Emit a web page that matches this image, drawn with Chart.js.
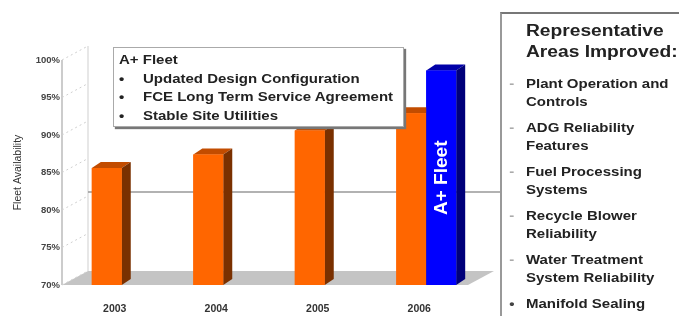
<!DOCTYPE html>
<html>
<head>
<meta charset="utf-8">
<script src="https://cdn.jsdelivr.net/npm/chart.js@4/dist/chart.umd.min.js"></script>
<style>
  body { margin: 0; background: #fff; font-family: "Liberation Sans", Arial, sans-serif; }
  #wrap { position: relative; width: 679px; height: 316px; overflow: hidden; }
  #fleetBox {
    position: absolute; left: 113px; top: 47px; width: 291px; height: 80px;
    background: #fff; border: 1px solid #aaa; box-shadow: 2px 2px 1px #777;
    box-sizing: border-box; padding: 3px 0 0 5px;
  }
  #fleetText {
    font-weight: bold; font-size: 12.5px; color: #222; line-height: 18.5px;
    transform: scaleX(1.2); transform-origin: 0 0; white-space: nowrap;
  }
  #fleetText .b { display: inline-block; width: 20px; }
  #panel {
    position: absolute; left: 500px; top: 12px; width: 190px; height: 320px;
    border-left: 2px solid #999; border-top: 2px solid #777; box-sizing: border-box;
    color: #222; font-weight: bold;
  }
  #panelText { transform: scaleX(1.2); transform-origin: 0 0; white-space: nowrap; }
  #panel h2 { margin: 6px 0 13px 20px; font-size: 16px; line-height: 21px; color: #222; }
  #panel ul { list-style: none; margin: 0; padding: 0; }
  #panel li { position: relative; padding-left: 20px; font-size: 12.5px; line-height: 18px; margin-bottom: 8px; }
  #panel li:before { content: "-"; position: absolute; left: 6px; color: #aaa; }
  #panel li.last:before { content: "\2022"; color: #444; }
</style>
</head>
<body>
<div id="wrap">
  <canvas id="availCanvas" width="679" height="316"></canvas>
  <div id="fleetBox"><div id="fleetText"></div></div>
  <div id="panel"><div id="panelText"><h2>Representative<br>Areas Improved:</h2><ul id="areaList"></ul></div></div>
</div>
<script>
var years = ["2003", "2004", "2005", "2006"];
var fleetValues = [85.6, 87.4, 90.6, 92.9];
var aPlusValues = [null, null, null, 98.6];
var yTicks = [70, 75, 80, 85, 90, 95, 100];
var boxLines = ["Updated Design Configuration", "FCE Long Term Service Agreement", "Stable Site Utilities"];
var areas = ["Plant Operation and<br>Controls", "ADG Reliability<br>Features", "Fuel Processing<br>Systems",
             "Recycle Blower<br>Reliability", "Water Treatment<br>System Reliability", "Manifold Sealing"];
var refLine = 82.4;

var panelLeft = 500;
var frontShift = 9;             // front edge sits left of the bar plane
var depthX = 9, depthY = 6;     // bar depth
var wallX = 26, wallY = 14;     // floor/wall depth

// text boxes
var html = "A+ Fleet";
boxLines.forEach(function (t) { html += '<br><span class="b">&bull;</span>' + t; });
document.getElementById('fleetText').innerHTML = html;
var list = document.getElementById('areaList');
areas.forEach(function (t, i) {
  var li = document.createElement('li');
  li.innerHTML = t;
  if (i == areas.length - 1) li.className = 'last';
  list.appendChild(li);
});

var sideColors = { '#FF6600': '#7a3000', '#0000FF': '#00007a' };
var topColors = { '#FF6600': '#c24c00', '#0000FF': '#0000a8' };

var threeD = {
  id: 'threeD',
  beforeDatasetsDraw: function (chart) {
    var ctx = chart.ctx, a = chart.chartArea, y = chart.scales.y;
    var fl = a.left - frontShift, fr = a.right - frontShift;
    ctx.save();
    // floor
    ctx.fillStyle = '#c4c4c4';
    ctx.beginPath();
    ctx.moveTo(fl, a.bottom);
    ctx.lineTo(fl + wallX, a.bottom - wallY);
    ctx.lineTo(fr + wallX, a.bottom - wallY);
    ctx.lineTo(fr, a.bottom);
    ctx.closePath();
    ctx.fill();
    // front axis line
    ctx.strokeStyle = '#999';
    ctx.lineWidth = 1;
    ctx.beginPath();
    ctx.moveTo(fl, a.top);
    ctx.lineTo(fl, a.bottom);
    ctx.stroke();
    // left wall
    ctx.strokeStyle = '#cfcfcf';
    ctx.beginPath();
    ctx.moveTo(fl + wallX, a.top - wallY);
    ctx.lineTo(fl + wallX, a.bottom - wallY);
    ctx.stroke();
    ctx.setLineDash([2, 3]);
    yTicks.forEach(function (v) {
      var py = y.getPixelForValue(v);
      ctx.beginPath();
      ctx.moveTo(fl, py);
      ctx.lineTo(fl + wallX, py - wallY);
      ctx.stroke();
    });
    ctx.setLineDash([]);
    // horizontal reference line
    ctx.strokeStyle = '#999';
    ctx.lineWidth = 1.5;
    var ry = y.getPixelForValue(refLine);
    ctx.beginPath();
    ctx.moveTo(fl + wallX, ry);
    ctx.lineTo(panelLeft, ry);
    ctx.stroke();
    ctx.restore();
  },
  afterDatasetsDraw: function (chart) {
    var ctx = chart.ctx;
    var bars = [];
    chart.data.datasets.forEach(function (ds, di) {
      chart.getDatasetMeta(di).data.forEach(function (el, i) {
        if (ds.data[i] == null) return;
        bars.push({ el: el, color: ds.backgroundColor, di: di });
      });
    });
    bars.sort(function (p, q) { return p.el.x - q.el.x; });
    ctx.save();
    bars.forEach(function (b) {
      var p = b.el.getProps(['x', 'y', 'base', 'width'], true);
      var l = p.x - p.width / 2, r = p.x + p.width / 2;
      ctx.fillStyle = topColors[b.color];
      ctx.beginPath();
      ctx.moveTo(l, p.y);
      ctx.lineTo(l + depthX, p.y - depthY);
      ctx.lineTo(r + depthX, p.y - depthY);
      ctx.lineTo(r, p.y);
      ctx.closePath();
      ctx.fill();
      ctx.fillStyle = sideColors[b.color];
      ctx.beginPath();
      ctx.moveTo(r, p.y);
      ctx.lineTo(r + depthX, p.y - depthY);
      ctx.lineTo(r + depthX, p.base - depthY);
      ctx.lineTo(r, p.base);
      ctx.closePath();
      ctx.fill();
      ctx.fillStyle = b.color;
      ctx.fillRect(l, p.y, p.width, p.base - p.y);
      if (b.di == 1) {
        ctx.save();
        ctx.translate(p.x + 1, (p.y + p.base) / 2);
        ctx.rotate(-Math.PI / 2);
        ctx.fillStyle = '#fff';
        ctx.font = 'bold 19px "Liberation Sans", Arial, sans-serif';
        ctx.textAlign = 'center';
        ctx.textBaseline = 'middle';
        ctx.fillText(chart.data.datasets[1].label, 0, 0);
        ctx.restore();
      }
    });
    ctx.restore();
  }
};

var config = {
  type: 'bar',
  data: {
    labels: years,
    datasets: [
      { label: 'Fleet', data: fleetValues, backgroundColor: '#FF6600', base: yTicks[0], barPercentage: 1, categoryPercentage: 0.59 },
      { label: 'A+ Fleet', data: aPlusValues, backgroundColor: '#0000FF', base: yTicks[0], barPercentage: 1, categoryPercentage: 0.59 }
    ]
  },
  plugins: [threeD],
  options: {
    responsive: false,
    animation: false,
    layout: { padding: { top: 60, right: 202, left: 0, bottom: 0 } },
    plugins: { legend: { display: false }, tooltip: { enabled: false } },
    scales: {
      x: {
        grid: { display: false },
        border: { display: false },
        ticks: { padding: 10, labelOffset: -7, color: '#333', font: { size: 10.5, weight: 'bold', family: '"Liberation Sans", Arial' } },
        afterFit: function (axis) { axis.height = 31; }
      },
      y: {
        min: 70, max: 100,
        afterBuildTicks: function (axis) { axis.ticks = yTicks.map(function (v) { return { value: v }; }); },
        grid: { display: false },
        border: { display: false },
        ticks: {
          padding: 3, color: '#444',
          font: { size: 9.5, weight: 'bold', family: '"Liberation Sans", Arial' },
          callback: function (v) { return v + '%'; }
        },
        title: {
          display: true, text: 'Fleet Availability', color: '#333',
          font: { size: 10.5, family: '"Liberation Sans", Arial' },
          padding: { top: 12, bottom: 0 }
        },
        afterFit: function (axis) { axis.width = 71; }
      }
    }
  }
};

var availChart = new Chart(document.getElementById('availCanvas'), config);
</script>
</body>
</html>
